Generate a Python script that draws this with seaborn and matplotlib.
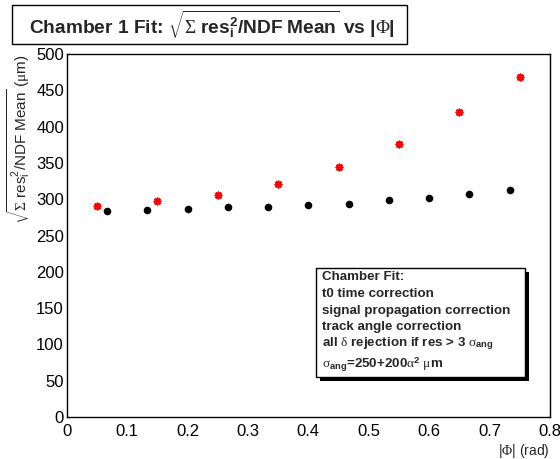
import matplotlib
matplotlib.use("Agg")
import matplotlib.pyplot as plt
from matplotlib.ticker import MultipleLocator
from matplotlib.patches import Rectangle
import seaborn as sns
import pandas as pd

# Mean residual width per |Phi| bin, two fit variants
phi_black = [0.0667, 0.1333, 0.2000, 0.2667, 0.3333, 0.4000, 0.4667, 0.5333, 0.6000, 0.6667, 0.7333]
res_black = [284, 285, 287, 289, 289, 292, 294, 299, 301, 307, 313]
phi_red = [0.05, 0.15, 0.25, 0.35, 0.45, 0.55, 0.65, 0.75]
res_red = [291, 298, 306, 321, 344, 376, 420, 468]

x_ticks = [0, 0.1, 0.2, 0.3, 0.4, 0.5, 0.6, 0.7, 0.8]
y_ticks = [0, 50, 100, 150, 200, 250, 300, 350, 400, 450, 500]

box_lines = [
    "Chamber Fit:",
    "t0 time correction",
    "signal propagation correction",
    "track angle correction",
    r"all $\mathrm{\delta}$ rejection if res > 3 $\mathrm{\sigma}_{\mathbf{ang}}$",
    r"$\mathrm{\sigma}_{\mathbf{ang}}$=250+200$\mathrm{\alpha}^{\mathbf{2}}$ $\mathrm{\mu}$m",
]

sns.set_style("white")
plt.rcParams["font.family"] = ["Liberation Sans", "DejaVu Sans"]
plt.rcParams["mathtext.fontset"] = "custom"
plt.rcParams["mathtext.rm"] = "Liberation Serif"
plt.rcParams["mathtext.it"] = "Liberation Serif:italic"
plt.rcParams["mathtext.bf"] = "Liberation Sans:bold"
plt.rcParams["mathtext.sf"] = "Liberation Sans"

fig = plt.figure(figsize=(5.6, 4.59), dpi=100)
ax = fig.add_axes([66.7 / 560, 1 - 417 / 459, (550 - 66.7) / 560, (417 - 54) / 459])

df_b = pd.DataFrame({"phi": phi_black, "res": res_black})
df_r = pd.DataFrame({"phi": phi_red, "res": res_red})
sns.scatterplot(data=df_b, x="phi", y="res", ax=ax, color="black", marker="o",
                s=30, linewidth=0, zorder=3)
sns.scatterplot(data=df_r, x="phi", y="res", ax=ax, color="red", marker=(8, 2, 0),
                s=20, linewidth=1.3, edgecolor="red", zorder=3)

ax.set_xlim(0, 0.8)
ax.set_ylim(0, 500)
ax.set_xticks(x_ticks)
ax.set_xticklabels([f"{v:g}" for v in x_ticks])
ax.set_yticks(y_ticks)
ax.set_yticklabels([f"{v:g}" for v in y_ticks])
ax.xaxis.set_minor_locator(MultipleLocator(0.02))
ax.yaxis.set_minor_locator(MultipleLocator(10))
ax.tick_params(axis="both", which="both", direction="in", top=False, right=False,
               labelsize=12, colors="black")
ax.tick_params(axis="x", which="major", length=10, width=1, pad=5)
ax.tick_params(axis="y", which="major", length=12, width=1, pad=2)
ax.tick_params(axis="both", which="minor", length=6, width=1)
for sp in ax.spines.values():
    sp.set_color("black")
    sp.set_linewidth(1)

ax.set_xlabel(r"|$\mathrm{\Phi}$| (rad)", loc="right", fontsize=10, labelpad=2)
ax.set_ylabel(r"$\sqrt{\mathrm{\Sigma}\ \mathsf{res}_{\mathsf{i}}^{\mathsf{2}}\mathsf{/NDF\ Mean}}$ ($\mathrm{\mu}$m)",
              loc="top", fontsize=11, labelpad=3)

# Title in a framed box
fig.patches.append(Rectangle((12 / 560, 1 - 44 / 459), (407 - 12) / 560, (44 - 5) / 459,
                             transform=fig.transFigure, facecolor="white",
                             edgecolor="black", linewidth=1))
fig.text(212 / 560, 1 - 25 / 459,
         r"Chamber 1 Fit: $\sqrt{\mathrm{\Sigma}\ \mathbf{res}_{\mathbf{i}}^{\mathbf{2}}\mathbf{/NDF\ Mean}}$ vs |$\mathrm{\Phi}$|",
         ha="center", va="center", fontsize=13.8, fontweight="bold")

# Annotation box with drop shadow
bx0, by0, bx1, by1 = 316, 268, 525, 377
sh = 4
fig.patches.append(Rectangle(((bx0 + sh) / 560, 1 - (by1 + sh) / 459), (bx1 - bx0) / 560,
                             (by1 - by0) / 459, transform=fig.transFigure,
                             facecolor="black", edgecolor="black", linewidth=0, zorder=4))
fig.patches.append(Rectangle((bx0 / 560, 1 - by1 / 459), (bx1 - bx0) / 560, (by1 - by0) / 459,
                             transform=fig.transFigure, facecolor="white",
                             edgecolor="black", linewidth=1, zorder=5))
line_y = [277, 294, 311, 327, 344, 365]
for txt, yy in zip(box_lines, line_y):
    fig.text(322 / 560, 1 - yy / 459, txt, ha="left", va="center", fontsize=9.6,
             fontweight="bold", zorder=6)

fig.savefig("out.png", dpi=100)
